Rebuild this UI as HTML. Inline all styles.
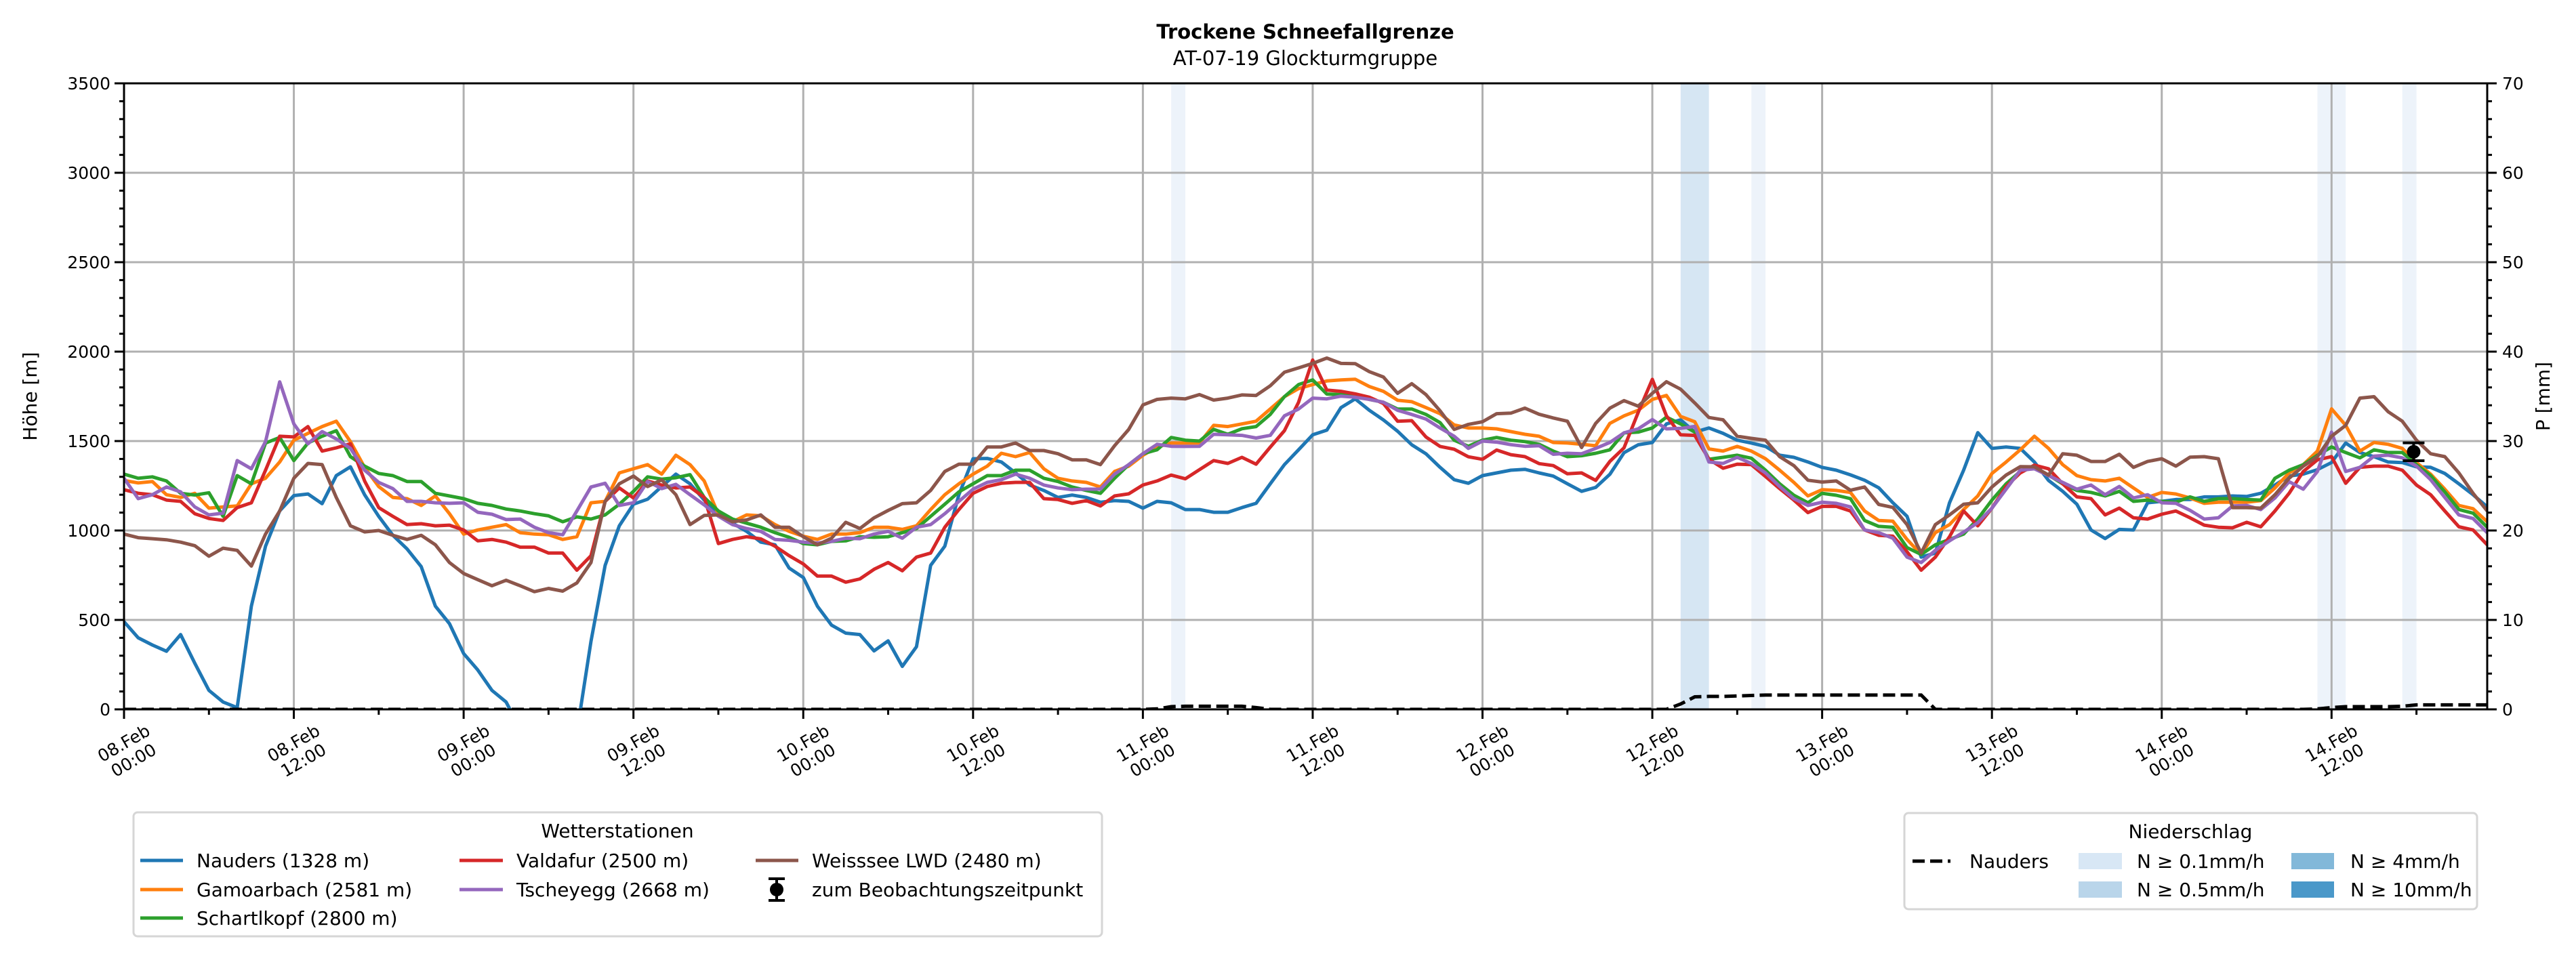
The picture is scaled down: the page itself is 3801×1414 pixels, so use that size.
<!DOCTYPE html>
<html><head><meta charset="utf-8"><style>
html,body{margin:0;padding:0;background:#fff;}
svg{display:block;font-family:"DejaVu Sans","Liberation Sans",sans-serif;}
</style></head><body>
<svg id="chart" width="3801" height="1414" viewBox="0 0 3801 1414" xmlns="http://www.w3.org/2000/svg">
<defs><clipPath id="plotclip"><rect x="183" y="123" width="3487" height="924"/></clipPath></defs>
<rect width="3801" height="1414" fill="#fff"/>
<text x="1926" y="57" text-anchor="middle" font-size="29" font-weight="bold">Trockene Schneefallgrenze</text>
<text x="1926" y="96" text-anchor="middle" font-size="29">AT-07-19 Glockturmgruppe</text>
<g id="bands"></g>
<g id="grid"></g>
<g id="series" clip-path="url(#plotclip)"></g>
<g id="axes"></g>
<text transform="translate(54,585) rotate(-90)" text-anchor="middle" font-size="28">Höhe [m]</text>
<text transform="translate(3762,585) rotate(-90)" text-anchor="middle" font-size="28">P [mm]</text>

<g>
<rect x="197" y="1199" width="1429" height="183" rx="6" fill="#fff" stroke="#d6d6d6" stroke-width="3"/>
<text x="911" y="1236" text-anchor="middle" font-size="28">Wetterstationen</text>
<g><line x1="207" y1="1270" x2="270" y2="1270" stroke="#1f77b4" stroke-width="5"/><text x="290" y="1280" font-size="28">Nauders (1328 m)</text></g>
<g><line x1="207" y1="1313" x2="270" y2="1313" stroke="#ff7f0e" stroke-width="5"/><text x="290" y="1323" font-size="28">Gamoarbach (2581 m)</text></g>
<g><line x1="207" y1="1355" x2="270" y2="1355" stroke="#2ca02c" stroke-width="5"/><text x="290" y="1365" font-size="28">Schartlkopf (2800 m)</text></g>
<g><line x1="678" y1="1270" x2="742" y2="1270" stroke="#d62728" stroke-width="5"/><text x="762" y="1280" font-size="28">Valdafur (2500 m)</text></g>
<g><line x1="678" y1="1313" x2="742" y2="1313" stroke="#9467bd" stroke-width="5"/><text x="762" y="1323" font-size="28">Tscheyegg (2668 m)</text></g>
<g><line x1="1115" y1="1270" x2="1178" y2="1270" stroke="#8c564b" stroke-width="5"/><text x="1198" y="1280" font-size="28">Weisssee LWD (2480 m)</text></g>
<g><line x1="1146" y1="1297" x2="1146" y2="1329" stroke="#000" stroke-width="4"/><line x1="1134" y1="1297" x2="1158" y2="1297" stroke="#000" stroke-width="4"/><line x1="1134" y1="1329" x2="1158" y2="1329" stroke="#000" stroke-width="4"/><circle cx="1146" cy="1313" r="10"/><text x="1198" y="1323" font-size="28">zum Beobachtungszeitpunkt</text></g>
</g>

<g>
<rect x="2810" y="1200" width="845" height="142" rx="6" fill="#fff" stroke="#d6d6d6" stroke-width="3"/>
<text x="3232" y="1237" text-anchor="middle" font-size="28">Niederschlag</text>
<g><line x1="2822" y1="1271" x2="2878" y2="1271" stroke="#000" stroke-width="5" stroke-dasharray="18,8"/><text x="2906" y="1281" font-size="28">Nauders</text></g>
<g><rect x="3067" y="1259" width="64" height="24" fill="#d8e7f5"/><text x="3153" y="1281" font-size="28">N ≥ 0.1mm/h</text></g>
<g><rect x="3067" y="1301" width="64" height="24" fill="#b9d5ea"/><text x="3153" y="1323" font-size="28">N ≥ 0.5mm/h</text></g>
<g><rect x="3381" y="1259" width="63" height="24" fill="#82b8d9"/><text x="3468" y="1281" font-size="28">N ≥ 4mm/h</text></g>
<g><rect x="3381" y="1301" width="63" height="24" fill="#4a98c9"/><text x="3468" y="1323" font-size="28">N ≥ 10mm/h</text></g>
</g>
</svg>
<script>
const xTickLabels = ["08.Feb|00:00","08.Feb|12:00","09.Feb|00:00","09.Feb|12:00","10.Feb|00:00","10.Feb|12:00","11.Feb|00:00","11.Feb|12:00","12.Feb|00:00","12.Feb|12:00","13.Feb|00:00","13.Feb|12:00","14.Feb|00:00","14.Feb|12:00"];
const yTicks = [0,500,1000,1500,2000,2500,3000,3500];
const y2Ticks = [0,10,20,30,40,50,60,70];
const stationNames = ["nauders","gamoarbach","schartlkopf","valdafur","tscheyegg","weisssee"];
const stationColors = ["#1f77b4","#ff7f0e","#2ca02c","#d62728","#9467bd","#8c564b"];
const nauders = [490,400,360,325,418,258,106,41,10,577,912,1110,1195,1204,1150,1307,1356,1200,1079,973,897,798,577,479,312,220,106,41,-110,-300,-300,-300,-130,380,805,1026,1147,1175,1246,1315,1261,1170,1100,1041,995,935,920,790,737,577,471,426,418,327,383,240,350,805,912,1200,1401,1403,1383,1322,1254,1224,1185,1198,1185,1158,1167,1163,1125,1163,1155,1117,1117,1102,1102,1128,1152,1261,1368,1451,1535,1561,1687,1736,1672,1618,1555,1479,1429,1353,1284,1264,1307,1322,1337,1342,1322,1304,1261,1219,1241,1314,1435,1479,1492,1596,1619,1550,1573,1543,1505,1489,1470,1421,1409,1383,1353,1337,1311,1281,1239,1155,1079,851,874,1155,1337,1547,1459,1467,1459,1383,1280,1219,1147,1003,955,1006,1003,1155,1163,1173,1173,1188,1188,1193,1190,1208,1254,1304,1315,1340,1380,1489,1436,1413,1383,1380,1356,1353,1319,1261,1200,1132];
const gamoarbach = [1280,1266,1274,1200,1185,1208,1125,1132,1137,1261,1292,1383,1505,1543,1581,1611,1497,1353,1246,1185,1178,1140,1193,1094,980,1003,1018,1033,988,980,976,950,965,1155,1163,1322,1345,1368,1315,1421,1368,1277,1090,1049,1087,1082,1033,995,968,950,980,980,988,1018,1018,1006,1026,1117,1200,1261,1315,1360,1432,1413,1436,1345,1292,1277,1269,1243,1330,1360,1421,1466,1489,1489,1489,1588,1581,1596,1611,1679,1748,1793,1816,1836,1842,1846,1805,1778,1728,1720,1687,1653,1590,1573,1573,1568,1553,1538,1527,1492,1489,1482,1474,1599,1641,1672,1733,1755,1638,1608,1456,1444,1470,1444,1401,1337,1269,1193,1228,1224,1213,1109,1056,1052,950,866,988,1033,1117,1193,1319,1383,1451,1527,1459,1368,1307,1284,1277,1292,1238,1185,1213,1204,1182,1152,1158,1158,1158,1167,1238,1322,1368,1444,1680,1588,1444,1492,1482,1459,1380,1315,1231,1140,1122,1049];
const schartlkopf = [1315,1292,1300,1277,1208,1198,1211,1079,1307,1261,1489,1520,1391,1489,1527,1558,1413,1360,1319,1307,1274,1274,1208,1193,1178,1152,1140,1120,1109,1094,1082,1049,1076,1064,1087,1147,1219,1300,1287,1295,1312,1185,1109,1064,1041,1018,988,962,927,920,939,942,965,962,965,988,1011,1079,1147,1216,1261,1307,1307,1337,1337,1292,1274,1243,1224,1208,1292,1368,1429,1451,1520,1505,1500,1565,1538,1569,1581,1649,1748,1816,1842,1763,1760,1760,1733,1717,1679,1679,1649,1603,1505,1471,1505,1520,1505,1497,1482,1444,1413,1418,1432,1451,1546,1550,1573,1634,1596,1550,1398,1409,1421,1404,1337,1261,1197,1155,1208,1197,1178,1056,1023,1018,904,866,920,950,980,1064,1170,1261,1330,1353,1310,1261,1224,1213,1193,1219,1163,1170,1163,1158,1188,1163,1178,1178,1173,1170,1292,1337,1368,1421,1467,1436,1406,1451,1436,1436,1368,1307,1216,1117,1097,1018];
const valdafur = [1228,1208,1200,1170,1163,1094,1067,1056,1128,1155,1337,1527,1523,1581,1444,1462,1485,1277,1128,1079,1033,1038,1026,1030,1003,942,950,935,907,907,874,874,778,859,1163,1238,1182,1277,1254,1238,1243,1185,927,950,965,953,912,859,813,745,745,711,729,783,821,775,851,874,1018,1117,1208,1246,1264,1269,1269,1178,1173,1152,1167,1137,1193,1205,1254,1277,1310,1289,1340,1391,1375,1409,1371,1466,1558,1717,1953,1785,1778,1764,1745,1710,1611,1614,1523,1470,1454,1412,1398,1450,1424,1413,1374,1363,1317,1322,1280,1386,1462,1660,1845,1641,1535,1532,1398,1348,1371,1368,1302,1234,1170,1100,1135,1135,1109,1003,973,968,881,778,851,965,1109,1026,1125,1246,1322,1365,1345,1261,1188,1178,1087,1125,1071,1064,1091,1109,1071,1030,1018,1015,1046,1021,1109,1208,1330,1395,1413,1264,1353,1360,1360,1337,1254,1200,1109,1021,1003,920];
const tscheyegg = [1292,1178,1200,1243,1216,1132,1087,1097,1391,1345,1497,1831,1596,1485,1553,1512,1459,1337,1269,1234,1163,1163,1155,1152,1155,1102,1091,1061,1064,1018,988,976,1109,1243,1264,1140,1155,1274,1234,1258,1200,1143,1080,1033,1011,995,950,945,935,930,939,957,954,980,995,957,1018,1033,1094,1163,1231,1269,1284,1315,1292,1254,1238,1228,1231,1231,1315,1368,1429,1482,1471,1470,1471,1538,1535,1532,1517,1532,1641,1679,1740,1736,1751,1745,1733,1717,1672,1649,1623,1573,1527,1459,1500,1494,1480,1471,1474,1426,1432,1429,1459,1492,1546,1568,1620,1568,1571,1582,1383,1375,1409,1375,1322,1246,1178,1140,1158,1152,1132,1003,988,957,851,821,889,942,991,1044,1125,1231,1337,1345,1307,1269,1231,1254,1200,1246,1182,1200,1155,1152,1113,1064,1071,1137,1140,1117,1182,1273,1231,1330,1550,1330,1353,1416,1421,1406,1360,1284,1185,1087,1067,988];
const weisssee = [980,960,954,948,935,915,856,901,889,801,980,1109,1292,1375,1368,1185,1026,992,1000,973,950,973,920,821,760,725,691,722,691,658,676,661,707,821,1163,1261,1304,1246,1283,1200,1033,1084,1087,1049,1059,1087,1018,1018,965,920,957,1046,1011,1071,1112,1150,1155,1224,1330,1371,1371,1467,1467,1489,1447,1447,1429,1395,1395,1368,1474,1565,1702,1733,1740,1736,1760,1729,1740,1758,1755,1809,1885,1909,1934,1964,1934,1933,1888,1858,1767,1821,1760,1669,1565,1593,1608,1653,1656,1684,1650,1629,1611,1464,1599,1684,1726,1695,1767,1832,1790,1713,1632,1619,1527,1515,1505,1413,1363,1281,1271,1277,1225,1243,1146,1129,1033,874,1033,1087,1147,1155,1243,1310,1357,1356,1310,1429,1421,1386,1386,1426,1353,1386,1401,1360,1410,1413,1401,1128,1128,1125,1200,1292,1360,1413,1527,1588,1740,1748,1664,1611,1505,1429,1413,1322,1208,1109];
const precipNauders = [0,0,0,0,0,0,0,0,0,0,0,0,0,0,0,0,0,0,0,0,0,0,0,0,0,0,0,0,0,0,0,0,0,0,0,0,0,0,0,0,0,0,0,0,0,0,0,0,0,0,0,0,0,0,0,0,0,0,0,0,0,0,0,0,0,0,0,0,0,0,0,0,0,0.05,0.3,0.35,0.35,0.35,0.35,0.35,0.2,0,0,0,0,0,0,0,0,0,0,0,0,0,0,0,0,0,0,0,0,0,0,0,0,0,0,0,0,0,0.6,1.4,1.45,1.45,1.5,1.55,1.6,1.6,1.6,1.6,1.6,1.6,1.6,1.6,1.6,1.6,1.6,1.6,0,0,0,0,0,0,0,0,0,0,0,0,0,0,0,0,0,0,0,0,0,0,0,0,0,0,0,0.05,0.2,0.3,0.3,0.3,0.3,0.35,0.5,0.5,0.5,0.5,0.5,0.5];
const bandStart = [74,110,115,155,161];
const bandEnd = [75,112,116,157,162];
const bandLevel = [0,1,0,0,0];
const bandColors = ["#edf3fa","#d6e6f3"];
const obsHour = [161.8];
const obsValue = [1440];
const obsErr = [50];

const NS="http://www.w3.org/2000/svg";
const X0=183,X1=3670,Y0=1047,Y1=123,HMAX=167,VMAX=3500,PMAX=70;
function xS(h){return X0+h*(X1-X0)/HMAX;}
function yS(v){return Y0-v*(Y0-Y1)/VMAX;}
function yP(p){return Y0-p*(Y0-Y1)/PMAX;}
function mk(tag,attrs,parent){const e=document.createElementNS(NS,tag);for(const k in attrs)e.setAttribute(k,attrs[k]);parent.appendChild(e);return e;}

const bands=document.getElementById('bands');
bandStart.forEach((s,i)=>{
  const r=mk('rect',{x:xS(s),y:Y1,width:xS(bandEnd[i])-xS(s),height:Y0-Y1,fill:bandColors[bandLevel[i]]},bands);
  
  
});

const grid=document.getElementById('grid');
xTickLabels.forEach((l,i)=>{
  const g=mk('line',{x1:xS(i*12),x2:xS(i*12),y1:Y1,y2:Y0,stroke:'#b0b0b0','stroke-width':3},grid);
  
  
});
yTicks.forEach(v=>{
  const g=mk('line',{x1:X0,x2:X1,y1:yS(v),y2:yS(v),stroke:'#b0b0b0','stroke-width':3},grid);
  
  
});

const series=document.getElementById('series');
const allSeries=[nauders,gamoarbach,schartlkopf,valdafur,tscheyegg,weisssee];
allSeries.forEach((arr,si)=>{
  let d='';
  arr.forEach((v,h)=>{d+=(h?'L':'M')+xS(h).toFixed(1)+','+yS(v).toFixed(1);});
  const p=mk('path',{d:d,fill:'none',stroke:stationColors[si],'stroke-width':5,'stroke-linejoin':'round'},series);
  
  
});
let pd='';
precipNauders.forEach((v,h)=>{pd+=(h?'L':'M')+xS(h).toFixed(1)+','+yP(v).toFixed(1);});
const pl=mk('path',{d:pd,fill:'none',stroke:'#000','stroke-width':5,'stroke-dasharray':'18,8'},series);



const axes=document.getElementById('axes');
obsHour.forEach((h,i)=>{
  const g=mk('g',{},axes);
  
  
  const cx=xS(h),cy=yS(obsValue[i]),t=yS(obsValue[i]+obsErr[i]),b=yS(obsValue[i]-obsErr[i]);
  mk('line',{x1:cx,x2:cx,y1:t,y2:b,stroke:'#000','stroke-width':4},g);
  mk('line',{x1:cx-16,x2:cx+16,y1:t,y2:t,stroke:'#000','stroke-width':4},g);
  mk('line',{x1:cx-16,x2:cx+16,y1:b,y2:b,stroke:'#000','stroke-width':4},g);
  mk('circle',{cx:cx,cy:cy,r:10,fill:'#000'},g);
});
mk('rect',{x:X0,y:Y1,width:X1-X0,height:Y0-Y1,fill:'none',stroke:'#000','stroke-width':3},axes);
for(let h=0;h<=HMAX;h+=6){
  const major=h%12===0;
  mk('line',{x1:xS(h),x2:xS(h),y1:Y0,y2:Y0+(major?14:8),stroke:'#000','stroke-width':3},axes);
}
xTickLabels.forEach((l,i)=>{
  const parts=l.split('|');
  const t=mk('text',{transform:'translate('+(xS(i*12)+6)+',1108) rotate(-30)','text-anchor':'middle','font-size':25},axes);
  
  
  mk('tspan',{x:0,y:-4},t).textContent=parts[0];
  mk('tspan',{x:0,y:25},t).textContent=parts[1];
});
for(let v=0;v<=VMAX;v+=100){
  const major=v%500===0;
  mk('line',{x1:X0,x2:X0-(major?14:7),y1:yS(v),y2:yS(v),stroke:'#000','stroke-width':3},axes);
}
yTicks.forEach(v=>{
  const t=mk('text',{x:163,y:yS(v)+9,'text-anchor':'end','font-size':25},axes);
  
  
  t.textContent=v;
});
for(let p=0;p<=PMAX;p+=2){
  const major=p%10===0;
  mk('line',{x1:X1,x2:X1+(major?14:7),y1:yP(p),y2:yP(p),stroke:'#000','stroke-width':3},axes);
}
y2Ticks.forEach(p=>{
  const t=mk('text',{x:3692,y:yP(p)+9,'text-anchor':'start','font-size':25},axes);
  
  
  t.textContent=p;
});
</script>
</body></html>
